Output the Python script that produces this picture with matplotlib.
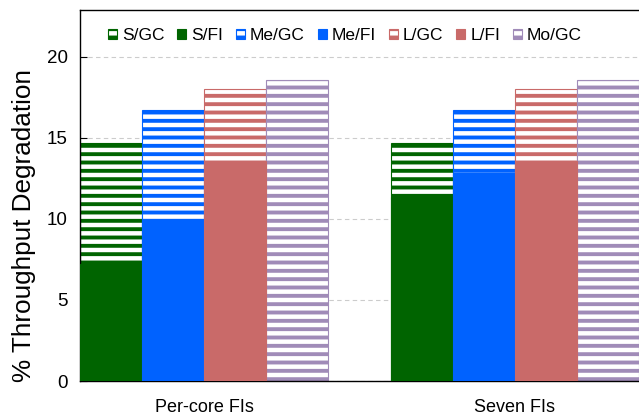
import numpy as np
import matplotlib
matplotlib.use("Agg")
import matplotlib.pyplot as plt

plt.rcParams["font.family"] = ["Liberation Sans", "DejaVu Sans"]
plt.rcParams["hatch.linewidth"] = 2.8

groups = ["Per-core FIs", "Seven FIs"]
sizes = ["S", "Me", "L", "Mo"]
gc_values = [
    [14.7, 14.7],   # S/GC
    [16.7, 16.7],   # Me/GC
    [18.0, 18.0],   # L/GC
    [18.6, 18.6],   # Mo/GC
]
fi_values = [
    [7.2, 11.35],   # S/FI
    [10.0, 12.85],  # Me/FI
    [13.6, 13.6],   # L/FI
    None,           # Mo has no FI series
]
colors = ["#006400", "#0062ff", "#c96a69", "#a08bb8"]
yticks = [0, 5, 10, 15, 20]

fig = plt.figure(figsize=(6.39, 4.18), dpi=100)
ax = fig.add_axes([80 / 639, 37 / 418, 1 - 80 / 639, 371 / 418])

group_x = np.array([0.0, 5.0])
offsets = [-1.5, -0.5, 0.5, 1.5]
handles = []
for i, size in enumerate(sizes):
    x = group_x + offsets[i]
    h_gc = ax.bar(x, gc_values[i], width=1.0, facecolor="white",
                  edgecolor=colors[i], hatch="--", linewidth=0.8,
                  zorder=2, label=f"{size}/GC")
    handles.append(h_gc)
    if fi_values[i] is not None:
        h_fi = ax.bar(x, fi_values[i], width=1.0, color=colors[i],
                      edgecolor=colors[i], linewidth=0.8, zorder=3,
                      label=f"{size}/FI")
        handles.append(h_fi)

ax.set_xlim(-2, 7)
ax.set_ylim(0, 22.9)
ax.set_yticks(yticks)
ax.set_xticks(group_x)
ax.set_xticklabels(groups, fontsize=13)
ax.tick_params(axis="x", length=0, pad=13)
ax.tick_params(axis="y", direction="in", length=5, labelsize=13.5, pad=9)
ax.set_ylabel("% Throughput Degradation", fontsize=18.8)
ax.yaxis.set_label_coords(-0.078, 0.42)
ax.yaxis.grid(True, linestyle=(0, (4, 3)), color="#cccccc", linewidth=0.8)
ax.set_axisbelow(True)
ax.spines["right"].set_visible(False)
for s in ["left", "top", "bottom"]:
    ax.spines[s].set_linewidth(1.0)

ax.legend(handles=handles, ncol=7, loc="upper center",
          bbox_to_anchor=(0.474, 0.985), frameon=False, fontsize=12.5,
          handlelength=0.5, handleheight=0.5, handletextpad=0.3,
          columnspacing=0.75, borderaxespad=0.3)

fig.savefig("out.png", dpi=100)
